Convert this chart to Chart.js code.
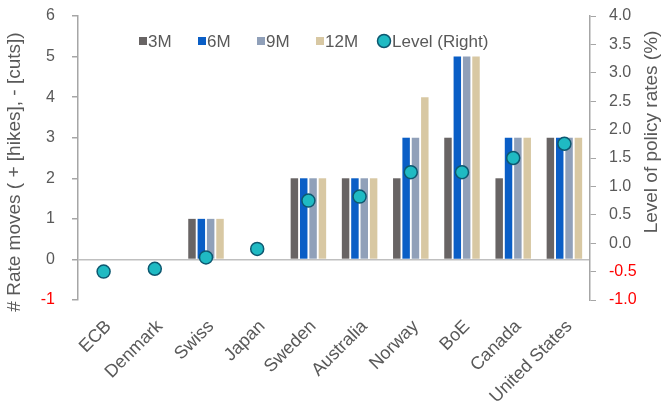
<!DOCTYPE html>
<html><head><meta charset="utf-8">
<script src="https://cdn.jsdelivr.net/npm/chart.js@4/dist/chart.umd.min.js"></script>
<style>html,body{margin:0;padding:0;background:#fff}#wrap{width:667px;height:402px}</style>
</head><body><div id="wrap"><canvas id="c" width="667" height="402"></canvas></div>
<script>
const categories = ["ECB","Denmark","Swiss","Japan","Sweden","Australia","Norway","BoE","Canada","United States"];
const moves3M  = [0,0,1,0,2,2,2,3,2,3];
const moves6M  = [0,0,1,0,2,2,3,5,3,3];
const moves9M  = [0,0,1,0,2,2,3,5,3,3];
const moves12M = [0,0,1,0,2,2,4,5,3,3];
const levelRight = [-0.5,-0.45,-0.25,-0.1,0.75,0.82,1.25,1.25,1.5,1.75];
const leftTicks = {min:-1,max:6,step:1};
const rightTicks = {min:-1,max:4,step:0.5};
const leftTitle = '# Rate moves ( + [hikes], - [cuts])';
const rightTitle = 'Level of policy rates (%)';

const C3='#686464', C6='#0a5ec6', C9='#90a0b9', C12='#d8c8a3', CDOT='#1fbac3', CDOTB='#0d5870';
const TXT='#595959', AX='#a6a6a6';
const FONT='"Liberation Sans", Arial, sans-serif';

const legendPlugin = {
  id:'customLegend',
  afterDraw(chart){
    const ctx=chart.ctx;
    ctx.save();
    ctx.font='17px '+FONT;
    ctx.textBaseline='middle';
    const y=41;
    const items=[[C3,'3M',139],[C6,'6M',198],[C9,'9M',257],[C12,'12M',316]];
    for(const [col,t,x] of items){
      ctx.fillStyle=col; ctx.fillRect(x,y-4,8,8);
      ctx.fillStyle=TXT; ctx.fillText(t,x+9,y+1);
    }
    ctx.beginPath(); ctx.arc(384,y,6.5,0,Math.PI*2);
    ctx.fillStyle=CDOT; ctx.fill(); ctx.lineWidth=1.5; ctx.strokeStyle=CDOTB; ctx.stroke();
    ctx.fillStyle=TXT; ctx.fillText('Level (Right)',392,y+1);
    // axis titles
    ctx.font='19px '+FONT;
    ctx.textAlign='center';
    ctx.fillStyle=TXT;
    ctx.save(); ctx.translate(15,172); ctx.rotate(-Math.PI/2); ctx.fillText(leftTitle,0,0); ctx.restore();
    ctx.save(); ctx.translate(652,132); ctx.rotate(-Math.PI/2); ctx.fillText(rightTitle,0,0); ctx.restore();
    ctx.restore();
  }
};

const barDs=(label,data,color)=>({type:'bar',label,data,backgroundColor:color,yAxisID:'y',order:2,barPercentage:0.8,categoryPercentage:0.73});
const noPad=s=>{s.paddingTop=0;s.paddingBottom=0;s.paddingLeft=0;s.paddingRight=0;};

new Chart(document.getElementById('c'),{
  data:{
    labels:categories,
    datasets:[
      {type:'line',label:'Level (Right)',data:levelRight,yAxisID:'y2',showLine:false,order:0,
       pointRadius:6.5,pointBackgroundColor:CDOT,pointBorderColor:CDOTB,pointBorderWidth:1.5},
      barDs('3M',moves3M,C3),
      barDs('6M',moves6M,C6),
      barDs('9M',moves9M,C9),
      barDs('12M',moves12M,C12)
    ]
  },
  options:{
    responsive:false,animation:false,
    layout:{padding:{top:16,left:0,right:0,bottom:0}},
    plugins:{legend:{display:false},tooltip:{enabled:false}},
    scales:{
      x:{
        border:{display:false},
        grid:{display:false,drawTicks:false},
        ticks:{color:TXT,font:{family:FONT,size:18},minRotation:45,maxRotation:45,padding:16,labelOffset:5},
        afterFit(s){s.height=102;noPad(s);}
      },
      y:{
        position:'left',min:leftTicks.min,max:leftTicks.max,
        border:{display:true,color:AX,width:1.5},
        grid:{drawOnChartArea:true,color:c=>c.tick&&c.tick.value===0?'#bfbfbf':'rgba(0,0,0,0)',lineWidth:1.5,tickColor:AX,tickLength:6},
        ticks:{stepSize:leftTicks.step,color:c=>c.tick.value<0?'#ff0000':TXT,font:{family:FONT,size:16},padding:17},
        afterFit(s){s.width=78;noPad(s);}
      },
      y2:{
        position:'right',min:rightTicks.min,max:rightTicks.max,
        border:{display:true,color:AX,width:1.5},
        grid:{drawOnChartArea:false,tickColor:AX,tickLength:6},
        ticks:{stepSize:rightTicks.step,color:c=>c.tick.value<0?'#ff0000':TXT,font:{family:FONT,size:16},padding:13,
               callback:v=>Number(v).toFixed(1)},
        afterFit(s){s.width=77;noPad(s);}
      }
    }
  },
  plugins:[legendPlugin]
});
</script></body></html>
